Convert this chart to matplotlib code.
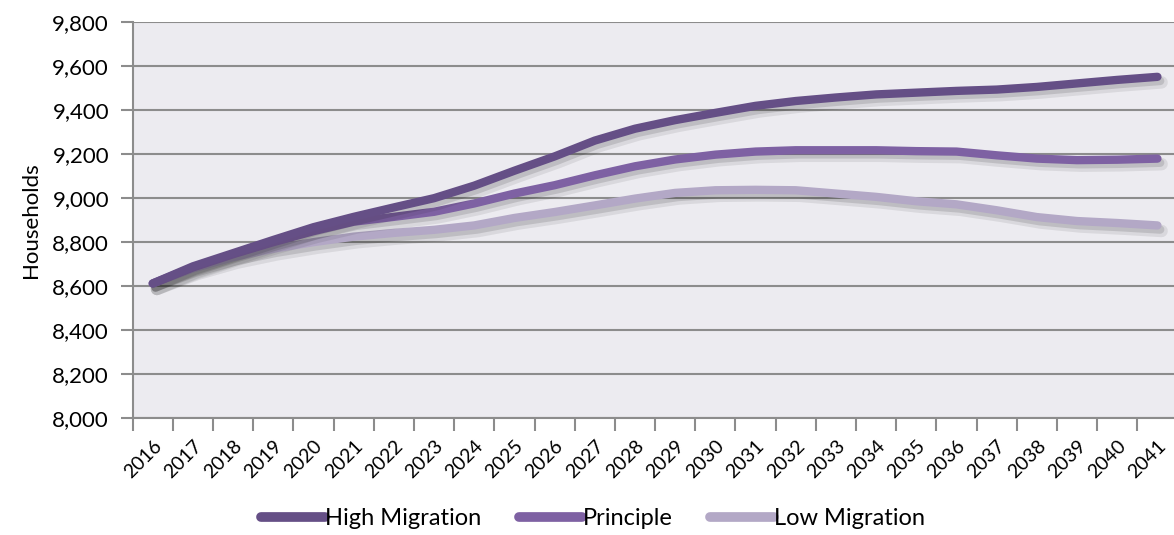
import numpy as np
import matplotlib
matplotlib.use('Agg')
import matplotlib.pyplot as plt
import matplotlib.patheffects as pe

years = [str(y) for y in range(2016, 2042)]

high_migration = [8612, 8690, 8750, 8810, 8868, 8915, 8958, 9000, 9057, 9125,
                  9190, 9262, 9316, 9355, 9388, 9420, 9442, 9458, 9472, 9480,
                  9488, 9494, 9506, 9522, 9538, 9552]
principle = [8612, 8685, 8745, 8800, 8850, 8893, 8915, 8938, 8976, 9021,
             9059, 9104, 9145, 9176, 9198, 9212, 9218, 9218, 9218, 9214,
             9212, 9195, 9180, 9173, 9175, 9180]
low_migration = [8612, 8680, 8732, 8770, 8800, 8825, 8842, 8856, 8876, 8910,
                 8937, 8967, 8998, 9024, 9036, 9038, 9036, 9021, 9006, 8986,
                 8972, 8945, 8914, 8896, 8887, 8876]

y_ticks = list(range(8000, 9801, 200))

series = [
    ('High Migration', high_migration, '#654f86'),
    ('Principle', principle, '#7e61a3'),
    ('Low Migration', low_migration, '#b3a8c6'),
]

plt.rcParams['font.family'] = ['Lato', 'DejaVu Sans']

fig = plt.figure(figsize=(11.74, 5.35), dpi=100)
ax = fig.add_axes([0.113, 0.2187, 0.890, 0.7396])
ax.set_facecolor('#ecebf0')

x = np.arange(len(years))
# soft drop shadow: a few stacked faint offsets
shadow = [pe.SimpleLineShadow(offset=(3, -4), shadow_color='black', alpha=0.08, linewidth=9),
          pe.SimpleLineShadow(offset=(2, -3), shadow_color='black', alpha=0.12),
          pe.Normal()]
# draw low first so high sits on top
for name, vals, col in reversed(series):
    ax.plot(x, vals, color=col, lw=6, solid_capstyle='round',
            solid_joinstyle='round', label=name, path_effects=shadow, zorder=3)

ax.set_xlim(-0.5, len(years) - 0.5)
ax.set_ylim(8000, 9800)
ax.set_yticks(y_ticks)
ax.set_yticklabels([f'{v:,}' for v in y_ticks], fontsize=16)
ax.yaxis.grid(True, color='#8c8c8c', lw=1.5, zorder=1)
ax.set_axisbelow(True)

ax.set_xticks(x)
ax.set_xticklabels(years, rotation=45, ha='right', rotation_mode='anchor', fontsize=14)
ax.set_xticks(np.arange(len(years) + 1) - 0.5, minor=True)
ax.tick_params(axis='x', which='major', length=0, pad=14)
ax.tick_params(axis='x', which='minor', length=9, width=1.5, color='#8c8c8c')
ax.tick_params(axis='y', length=9, width=1.5, color='#8c8c8c', pad=8)

for s in ['top', 'right']:
    ax.spines[s].set_visible(False)
for s in ['left', 'bottom']:
    ax.spines[s].set_color('#8c8c8c')
    ax.spines[s].set_linewidth(1.5)

ax.set_ylabel('Households', fontsize=16, labelpad=8)

handles, labels = ax.get_legend_handles_labels()
order = [2, 1, 0]
leg = fig.legend([handles[i] for i in order], [labels[i] for i in order],
                 loc='center', bbox_to_anchor=(0.505, 0.03), ncol=3, frameon=False,
                 fontsize=17, handlelength=2.7, handletextpad=0.0, columnspacing=1.6)
for h in leg.legend_handles:
    h.set_linewidth(7)
    h.set_path_effects([])

fig.savefig('out.png', dpi=100)
